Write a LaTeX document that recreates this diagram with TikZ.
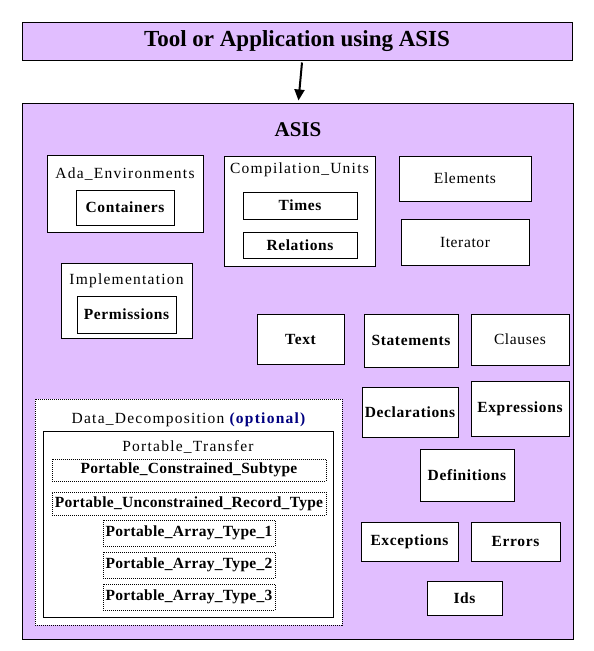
\documentclass[tikz,border=0pt]{standalone}
\usepackage{fontspec}
\setmainfont{Liberation Serif}
\newfontfamily\widefont[LetterSpace=4]{Liberation Serif}
\newfontfamily\titlefont[LetterSpace=8]{Liberation Serif}
\newfontfamily\narrowfont[LetterSpace=2]{Liberation Serif}
\usepackage{xcolor}
\definecolor{lilac}{HTML}{E1BEFF}
\definecolor{navy1}{HTML}{000080}
\usetikzlibrary{arrows.meta, positioning}

\begin{document}
\begin{tikzpicture}[x=1pt, y=-1pt,
  panel/.style = {draw, fill=lilac, line width=1pt, inner sep=0pt},
  group/.style = {draw, fill=white, line width=0.9pt, inner sep=0pt},
  unit/.style  = {draw, fill=white, line width=0.9pt, inner sep=0pt,
                  font=\widefont\fontsize{15.5}{18}\selectfont\bfseries},
  ptype/.style = {draw, fill=white, line width=0.8pt, inner sep=0pt,
                  dash pattern=on 1pt off 1pt,
                  font=\narrowfont\fontsize{15.5}{18}\selectfont\bfseries},
  ttl/.style   = {font=\titlefont\fontsize{15.5}{18}\selectfont, inner sep=0pt},
  big/.style   = {font=\fontsize{23}{26}\selectfont\bfseries, inner sep=0pt},
  arr/.style   = {-{Triangle[width=10pt, length=11pt]}, line width=2pt}
]
\useasboundingbox (0,0) rectangle (594,651);

\node[panel, minimum width=550pt, minimum height=38pt] (tool) at (297,41) {};
\node[big] (tooltxt) at (297,41) {Tool or Application using ASIS};

\node[panel, minimum width=551pt, minimum height=536pt] (asis) at (297.5,371) {};
\node[big, font=\fontsize{21}{24}\selectfont\bfseries] (asistxt) at (298,130) {ASIS};

\draw[arr] ([xshift=5pt, yshift=-2pt]tool.south) -- ([xshift=1pt, yshift=2pt]asis.north);

% groups with nested units
\node[group, minimum width=156pt, minimum height=77pt] (adaenv) at (125,193.5) {};
\node[ttl] (adaenvtxt) at (125,174) {Ada\_Environments};
\node[unit, minimum width=98pt, minimum height=35pt] (cont) at (125,207.5) {Containers};

\node[group, minimum width=151pt, minimum height=110pt] (cunits) at (299.5,211) {};
\node[ttl] (cunitstxt) at (299.5,170) {Compilation\_Units};
\node[unit, minimum width=114pt, minimum height=27pt] (times) at (300,205.5) {Times};
\node[unit, minimum width=114pt, minimum height=26pt] (rel) at (300,245) {Relations};

\node[group, minimum width=131pt, minimum height=75pt] (impl) at (126.5,300.5) {};
\node[ttl] (impltxt) at (126.5,281) {Implementation};
\node[unit, minimum width=99pt, minimum height=37pt] (perm) at (126.5,314.5) {Permissions};

% single units
\node[unit, minimum width=132pt, minimum height=45pt] (elem) at (465,178.5) {\mdseries Elements};
\node[unit, minimum width=128pt, minimum height=46pt] (iter) at (465,242) {\mdseries Iterator};
\node[unit, minimum width=87pt, minimum height=50pt] (text) at (300.5,339) {Text};
\node[unit, minimum width=94pt, minimum height=53pt] (stmt) at (411,340.5) {Statements};
\node[unit, minimum width=98pt, minimum height=51pt] (claus) at (520,339.5) {\mdseries Clauses};
\node[unit, minimum width=96pt, minimum height=50pt] (decl) at (410,412) {Declarations};
\node[unit, minimum width=98pt, minimum height=55pt] (expr) at (520,408.5) {Expressions};
\node[unit, minimum width=94pt, minimum height=52pt] (defn) at (467,475) {Definitions};
\node[unit, minimum width=97pt, minimum height=39pt] (excep) at (409.5,541.5) {Exceptions};
\node[unit, minimum width=89pt, minimum height=39pt] (errs) at (515.5,541.5) {Errors};
\node[unit, minimum width=75pt, minimum height=34pt] (ids) at (464.5,598) {Ids};

% optional data decomposition
\node[group, dash pattern=on 1pt off 1pt, minimum width=307pt, minimum height=226pt] (datadec) at (188.5,512) {};
\node[ttl] (datadectxt) at (188.5,420) {Data\_Decomposition \textcolor{navy1}{\bfseries(optional)}};
\node[group, minimum width=290pt, minimum height=186pt] (ptrans) at (188,524) {};
\node[ttl] (ptranstxt) at (188,447) {Portable\_Transfer};
\node[ptype, minimum width=274pt, minimum height=22pt] (pcs) at (189,470) {Portable\_Constrained\_Subtype};
\node[ptype, minimum width=274pt, minimum height=23pt] (purt) at (189,503.5) {Portable\_Unconstrained\_Record\_Type};
\foreach \i/\y in {1/533, 2/565, 3/597}
  \node[ptype, minimum width=172pt, minimum height=26pt] (pat\i) at (189,\y) {Portable\_Array\_Type\_\i};
\end{tikzpicture}
\end{document}
